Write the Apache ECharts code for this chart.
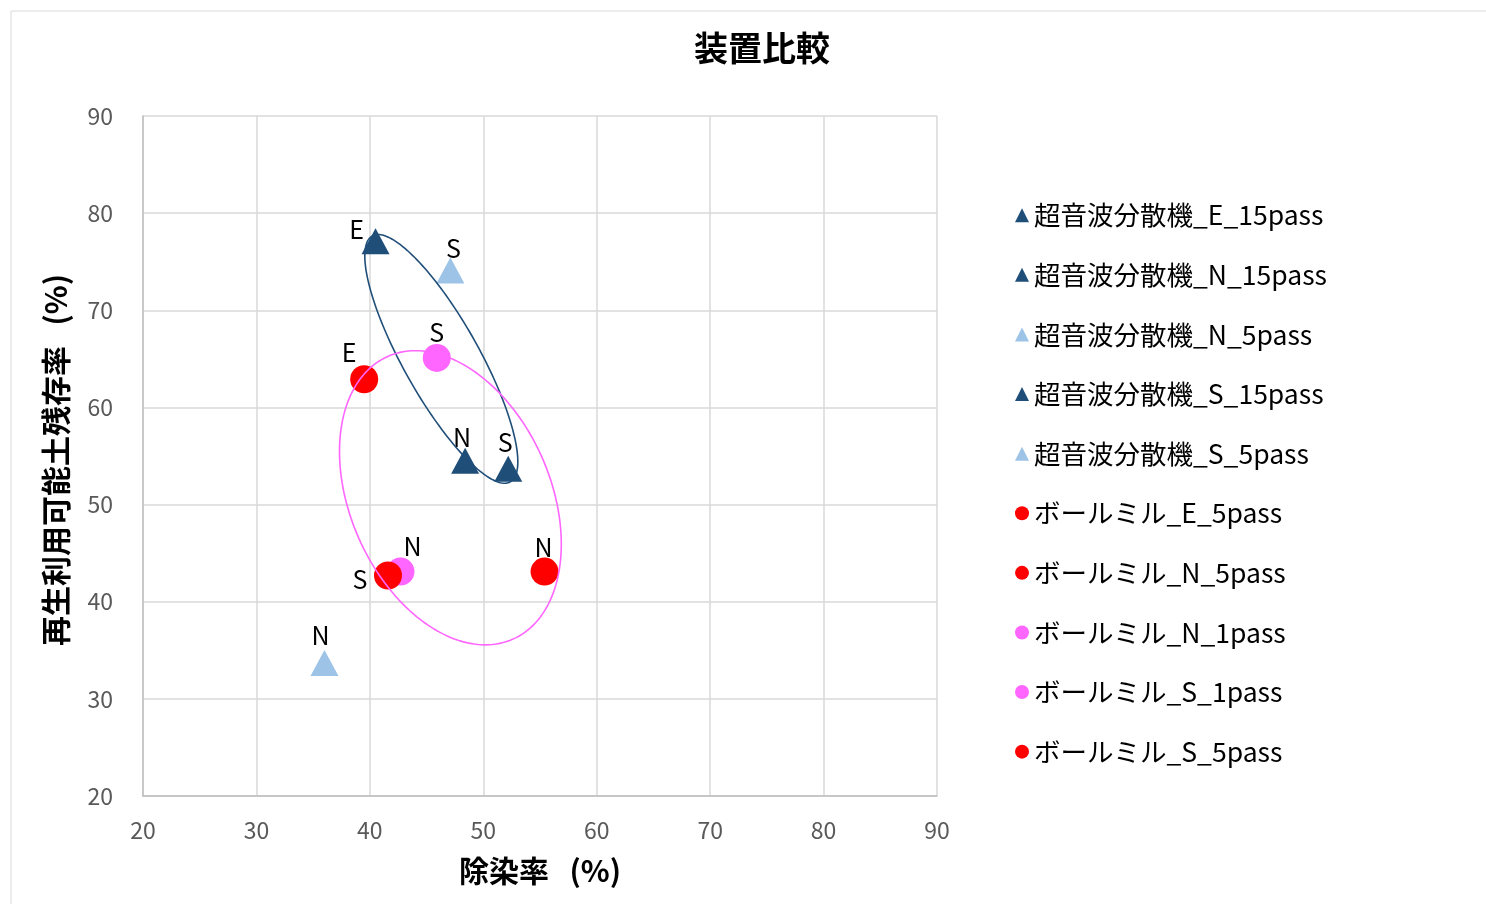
<!DOCTYPE html>
<html>
<head>
<meta charset="utf-8">
<script src="https://cdn.jsdelivr.net/npm/echarts@6/dist/echarts.min.js"></script>
<style>
  html, body { margin: 0; padding: 0; background: #ffffff; }
  #chart { width: 1486px; height: 904px; }
</style>
</head>
<body>
<div id="chart"></div>
<script>
// ---- data ----
const seriesNames = [
  '超音波分散機_E_15pass',
  '超音波分散機_N_15pass',
  '超音波分散機_N_5pass',
  '超音波分散機_S_15pass',
  '超音波分散機_S_5pass',
  'ボールミル_E_5pass',
  'ボールミル_N_5pass',
  'ボールミル_N_1pass',
  'ボールミル_S_1pass',
  'ボールミル_S_5pass'
];
// 除染率 (%)
const removalRates = [40.5, 48.4, 36.0, 52.2, 47.1, 39.5, 55.4, 42.7, 45.9, 41.6];
// 再生利用可能土残存率 (%)
const residualRates = [77.1, 54.5, 33.7, 53.7, 74.1, 62.9, 43.1, 43.1, 65.1, 42.7];
// site letter shown next to each point
const siteLetters = ['E', 'N', 'N', 'S', 'S', 'E', 'N', 'N', 'S', 'S'];

const xTickValues = [20, 30, 40, 50, 60, 70, 80, 90];
const yTickValues = [20, 30, 40, 50, 60, 70, 80, 90];

// grouping outlines (data units): centre, major semi-axis vector, minor semi-axis vector
const groupCenters = [[46.3, 65.0], [47.1, 50.7]];
const groupMajorAxes = [[6.08, -12.66], [5.52, -14.55]];
const groupMinorAxes = [[-2.92, -1.91], [-8.07, -4.18]];

// ---- styles ----
const DARK_BLUE = '#1F4E79';
const LIGHT_BLUE = '#9DC3E6';
const RED = '#FF0000';
const PINK = '#FF66FF';
const markerColors = [DARK_BLUE, DARK_BLUE, LIGHT_BLUE, DARK_BLUE, LIGHT_BLUE, RED, RED, PINK, PINK, RED];
const markerShapes = ['triangle', 'triangle', 'triangle', 'triangle', 'triangle',
                      'circle', 'circle', 'circle', 'circle', 'circle'];
const labelOffsets = [[-19, 16], [-3, 4], [-4, 0], [-3, 1], [3, 6],
                      [-15, 2], [-1, 4], [12, 3], [0, 3], [-28, 33]];
const groupColors = [DARK_BLUE, PINK];

const FONT = '"Noto Sans CJK JP", "Noto Sans", sans-serif';

const chart = echarts.init(document.getElementById('chart'), null, { renderer: 'canvas' });

const pointSeries = seriesNames.map((name, i) => ({
  name: name,
  type: 'scatter',
  z: 3,
  symbol: markerShapes[i],
  symbolSize: markerShapes[i] === 'triangle' ? [28, 26] : 28,
  itemStyle: { color: markerColors[i], opacity: 1 },
  label: {
    show: true,
    position: 'top',
    distance: 2,
    offset: labelOffsets[i],
    formatter: () => siteLetters[i],
    color: '#000000',
    fontFamily: FONT,
    fontSize: 25
  },
  emphasis: { disabled: true },
  data: [[removalRates[i], residualRates[i]]]
}));

const outlineSeries = groupCenters.map((c, g) => ({
  name: 'outline' + g,
  type: 'custom',
  z: 5,
  silent: true,
  data: [c],
  renderItem: function (params, api) {
    const cx = api.value(0), cy = api.value(1);
    const u = groupMajorAxes[g], v = groupMinorAxes[g];
    const pts = [];
    const steps = 180;
    for (let k = 0; k <= steps; k++) {
      const t = (k / steps) * Math.PI * 2;
      const x = cx + u[0] * Math.cos(t) + v[0] * Math.sin(t);
      const y = cy + u[1] * Math.cos(t) + v[1] * Math.sin(t);
      pts.push(api.coord([x, y]));
    }
    return {
      type: 'polyline',
      shape: { points: pts },
      style: { stroke: groupColors[g], lineWidth: 1.6, fill: null }
    };
  }
}));

const axisCommon = {
  type: 'value',
  min: xTickValues[0],
  max: xTickValues[xTickValues.length - 1],
  interval: 10,
  nameLocation: 'middle',
  nameTextStyle: { fontFamily: FONT, fontSize: 30, fontWeight: 'bold', color: '#000000' },
  axisLine: { show: true, lineStyle: { color: '#BFBFBF', width: 1.5 } },
  axisTick: { show: false },
  splitLine: { show: true, lineStyle: { color: '#D9D9D9', width: 1.5 } },
  axisLabel: { fontFamily: FONT, fontSize: 23, color: '#595959' }
};

const option = {
  backgroundColor: '#ffffff',
  animation: false,
  title: {
    text: '装置比較',
    left: 757,
    top: 26,
    textAlign: 'center',
    textStyle: { fontFamily: FONT, fontSize: 34, fontWeight: 'bold', color: '#000000' }
  },
  graphic: [{
    type: 'rect',
    shape: { x: 11, y: 11, width: 1500, height: 920 },
    style: { fill: null, stroke: '#D9D9D9', lineWidth: 1 },
    silent: true
  }],
  grid: { left: 143, top: 116, width: 794, height: 680, containLabel: false },
  xAxis: Object.assign({}, axisCommon, {
    name: '除染率   (%)',
    nameGap: 60,
    axisLabel: Object.assign({}, axisCommon.axisLabel, { margin: 23 })
  }),
  yAxis: Object.assign({}, axisCommon, {
    min: yTickValues[0],
    max: yTickValues[yTickValues.length - 1],
    name: '再生利用可能土残存率   (%)',
    nameGap: 72,
    nameTextStyle: Object.assign({}, axisCommon.nameTextStyle, { padding: [0, 0, 0, -8] }),
    axisLabel: Object.assign({}, axisCommon.axisLabel, { margin: 30 })
  }),
  legend: {
    orient: 'vertical',
    left: 1010,
    top: 197,
    itemWidth: 14,
    itemHeight: 14,
    itemGap: 33.1,
    data: seriesNames.map((n, i) => ({ name: n, icon: markerShapes[i] })),
    textStyle: { fontFamily: FONT, fontSize: 26.5, lineHeight: 26, color: '#000000', padding: [0, 0, 0, 0] }
  },
  series: pointSeries.concat(outlineSeries)
};

chart.setOption(option);
</script>
</body>
</html>
